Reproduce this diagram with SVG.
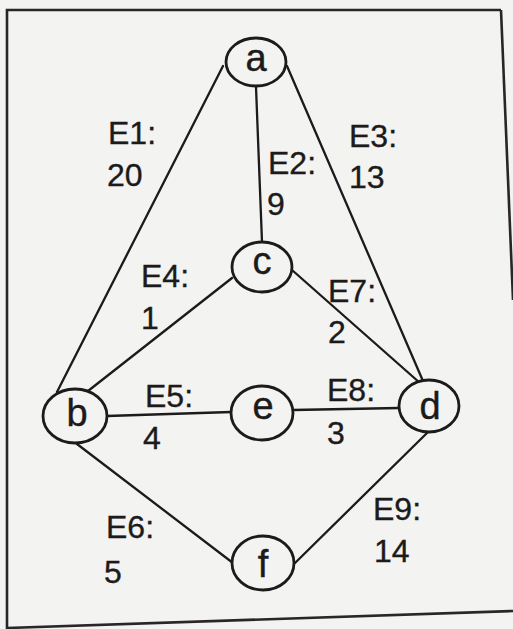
<svg xmlns="http://www.w3.org/2000/svg" width="513" height="629" viewBox="0 0 513 629">
  <style>
    .edge { stroke: #1c1a1a; stroke-width: 2.3; fill: none; stroke-linecap: round; }
    .node ellipse { fill: #f3f3f1; stroke: #1c1a1a; stroke-width: 2.8; }
    .node text { font-family: "Liberation Sans", Arial, sans-serif; font-size: 38px; fill: #1c1a1a; text-anchor: middle; stroke: #1c1a1a; stroke-width: 0.4; }
    .lbl { font-family: "Liberation Sans", Arial, sans-serif; font-size: 32px; fill: #1c1a1a; stroke: #1c1a1a; stroke-width: 0.35; }
    .frame { stroke: #2a2626; stroke-width: 2.6; fill: none; }
  </style>

  <!-- paper and frame -->
  <rect x="0" y="0" width="513" height="629" fill="#f3f3f1"/>
  <polyline class="frame" points="501,10 7,10 7,629"/>
  <line class="frame" x1="501" y1="10" x2="513" y2="300"/>
  <line class="frame" x1="7" y1="628" x2="513" y2="611"/>

  <!-- edges -->
  <g id="edges">
    <line class="edge" x1="223" y1="66" x2="57" y2="392"/>
    <line class="edge" x1="256" y1="87" x2="262" y2="242"/>
    <line class="edge" x1="287" y1="66" x2="423" y2="381"/>
    <line class="edge" x1="232" y1="278" x2="88" y2="391"/>
    <line class="edge" x1="107" y1="416" x2="231" y2="412"/>
    <line class="edge" x1="77" y1="444" x2="233" y2="563"/>
    <line class="edge" x1="292" y1="270" x2="420" y2="383"/>
    <line class="edge" x1="293" y1="410" x2="399" y2="408"/>
    <line class="edge" x1="427" y1="433" x2="295" y2="563"/>
  </g>

  <!-- edge labels -->
  <g id="edge-labels">
    <text class="lbl" x="108" y="144">E1:</text>
    <text class="lbl" x="107" y="186">20</text>
    <text class="lbl" x="268" y="174">E2:</text>
    <text class="lbl" x="267" y="215">9</text>
    <text class="lbl" x="349" y="147">E3:</text>
    <text class="lbl" x="349" y="188">13</text>
    <text class="lbl" x="141" y="287">E4:</text>
    <text class="lbl" x="141" y="329">1</text>
    <text class="lbl" x="145" y="407">E5:</text>
    <text class="lbl" x="143" y="449">4</text>
    <text class="lbl" x="106" y="538">E6:</text>
    <text class="lbl" x="104" y="583">5</text>
    <text class="lbl" x="328" y="302">E7:</text>
    <text class="lbl" x="328" y="343">2</text>
    <text class="lbl" x="327" y="401">E8:</text>
    <text class="lbl" x="327" y="444">3</text>
    <text class="lbl" x="373" y="520">E9:</text>
    <text class="lbl" x="374" y="562">14</text>
  </g>

  <!-- nodes -->
  <g id="node-a" class="node"><ellipse cx="256" cy="62" rx="30" ry="24"/><text x="256" y="71">a</text></g>
  <g id="node-c" class="node"><ellipse cx="262" cy="267" rx="30" ry="25"/><text x="262" y="274">c</text></g>
  <g id="node-b" class="node"><ellipse cx="75" cy="416" rx="32" ry="27"/><text x="77" y="426">b</text></g>
  <g id="node-e" class="node"><ellipse cx="262" cy="413" rx="31" ry="27"/><text x="263" y="419">e</text></g>
  <g id="node-d" class="node"><ellipse cx="429" cy="406" rx="30" ry="26"/><text x="430" y="419">d</text></g>
  <g id="node-f" class="node"><ellipse cx="263" cy="563" rx="31" ry="27"/><text x="263" y="577">f</text></g>
</svg>
